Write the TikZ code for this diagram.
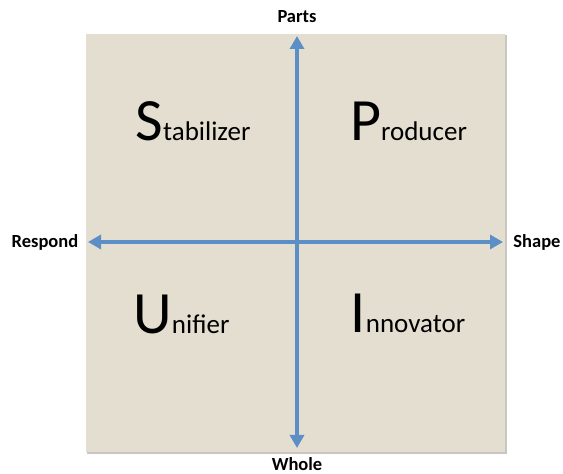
\documentclass[tikz,border=0pt]{standalone}
\usepackage{fontspec}
\setmainfont{Carlito}
\usetikzlibrary{arrows.meta}
\definecolor{panel}{RGB}{227,222,208}
\definecolor{axisblue}{RGB}{93,143,199}
\definecolor{panelshadow}{RGB}{200,198,192}
\tikzset{
  axis/.style={draw=axisblue, line width=4.5pt,
    {Triangle[length=13pt,width=14pt]}-{Triangle[length=13pt,width=14pt]}},
  axislabel/.style={font=\fontsize{18.5}{22}\selectfont\bfseries, inner sep=0pt},
  quadrant/.style={anchor=base, inner sep=0pt, font=\fontsize{27}{32}\selectfont}
}
\newcommand{\bigini}[2]{{\fontsize{60}{66}\selectfont #1}#2}
\begin{document}
\begin{tikzpicture}[x=1pt,y=1pt]
  \useasboundingbox (0,0) rectangle (563,474);
  % panel with a faint drop shadow
  \fill[panelshadow] (87,20) rectangle (506.5,439);
  \fill[panel] (86,22) rectangle (505,440);
  % axis end points
  \coordinate (top) at (297,438);
  \coordinate (bottom) at (297,26);
  \coordinate (left) at (88,232);
  \coordinate (right) at (503,232);
  \draw[axis] (bottom) -- (top);
  \draw[axis] (left) -- (right);
  % axis labels
  \node[axislabel] (parts) at (297,457) {Parts};
  \node[axislabel] (whole) at (297,10) {Whole};
  \node[axislabel] (respond) at (45,232) {Respond};
  \node[axislabel] (shape) at (537,232) {Shape};
  % quadrant names
  \node[quadrant] (stab) at (193,333) {\bigini{S}{tabilizer}};
  \node[quadrant] (prod) at (408.5,333) {\bigini{P}{roducer}};
  \node[quadrant] (unif) at (181.5,140) {\bigini{U}{nifier}};
  \node[quadrant] (innov) at (408,141) {\bigini{I}{nnovator}};
\end{tikzpicture}
\end{document}
